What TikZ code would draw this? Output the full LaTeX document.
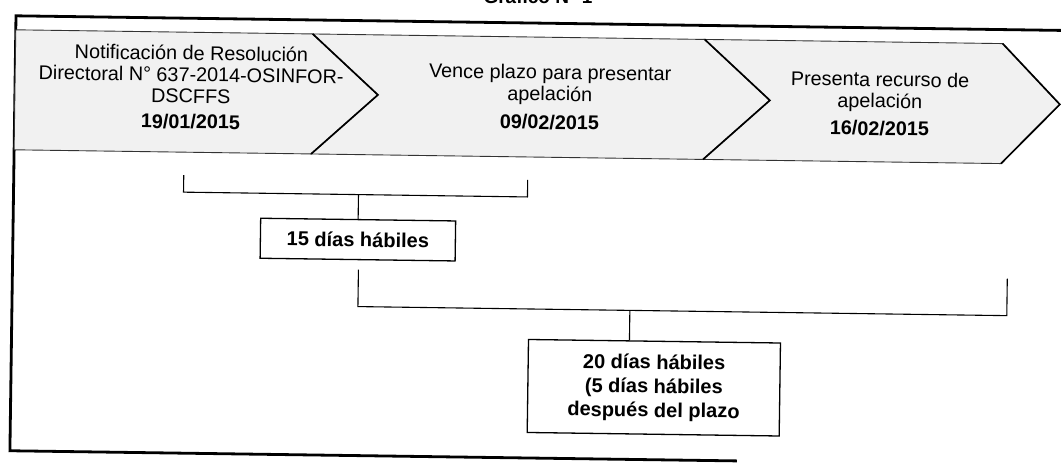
\documentclass[tikz,border=0pt]{standalone}
\usepackage{fontspec}
\setmainfont{Liberation Sans}
\begin{document}
\begin{tikzpicture}[x=1pt,y=-1pt,
  band/.style={fill=gray!11, draw=black!80, line width=0.9pt},
  chev/.style={draw=black, line width=1.7pt},
  frame/.style={draw=black, line width=2.8pt},
  brk/.style={draw=black, line width=1.1pt},
  lbl/.style={align=center, inner sep=0pt, font=\fontsize{19.8}{21.5}\selectfont},
  dbox/.style={draw=black, line width=1.3pt, align=center, inner sep=0pt,
     font=\bfseries\fontsize{20}{24}\selectfont}
]
\useasboundingbox (0,0) rectangle (1061,464);
\node[font=\bfseries\fontsize{19}{20}\selectfont, anchor=base] (title) at (538,3) {Gráfico N° 1};
\begin{scope}[rotate around={-0.8:(530,232)}, transform shape]
  % outer frame
  \draw[frame] (1090,23) -- (13,23) -- (13,458) -- (740,458);
  % chevron band
  \path[band] (13,37) -- (310,37) -- (376,97) -- (310,157) -- (13,157) -- cycle;
  \path[band] (310,37) -- (702,37) -- (768,97) -- (702,157) -- (310,157) -- (376,97) -- cycle;
  \path[band] (702,37) -- (1000,37) -- (1058,97) -- (1000,157) -- (702,157) -- (768,97) -- cycle;
  \draw[chev] (310,37) -- (376,97) -- (310,157);
  \draw[chev] (702,37) -- (768,97) -- (702,157);
  \draw[chev] (1000,37) -- (1058,97) -- (1000,157);
  % texts
  \node[lbl] (t1) at (189,92) {Notificación de Resolución\\Directoral N° 637-2014-OSINFOR-\\DSCFFS\\[4pt]\textbf{19/01/2015}};
  \node[lbl] (t2) at (548,97) {Vence plazo para presentar\\apelación\\[7pt]\textbf{09/02/2015}};
  \node[lbl] (t3) at (878,99) {Presenta recurso de\\apelación\\[6pt]\textbf{16/02/2015}};
  % boxes
  \node[dbox, minimum width=195pt, minimum height=40pt] (d15) at (358,242) {15 días hábiles};
  \node[dbox, minimum width=252pt, minimum height=93pt] (d20) at (656,386) {20 días hábiles\\(5 días hábiles\\después del plazo};
  % brackets
  \coordinate (b1l) at (183,180);
  \coordinate (b1r) at (527,180);
  \coordinate (b1m) at (358,197);
  \draw[brk] (b1l) |- (b1m) -| (b1r);
  \draw[brk] (b1m) -- (b1m |- d15.north);
  \coordinate (b2l) at (359,272);
  \coordinate (b2r) at (1008,272);
  \coordinate (b2m) at (631,309);
  \draw[brk] (b2l) |- (b2m) -| (b2r);
  \draw[brk] (b2m) -- (b2m |- d20.north);
\end{scope}
\end{tikzpicture}
\end{document}
